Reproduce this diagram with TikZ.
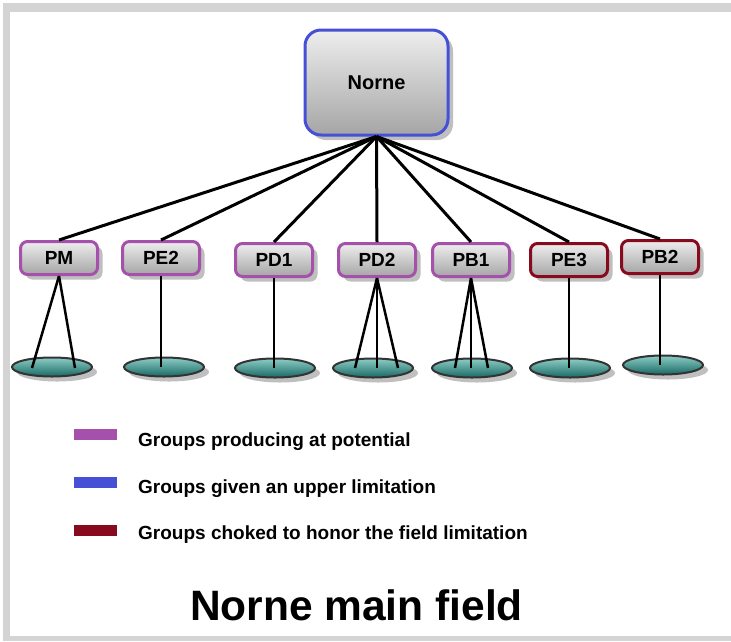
\documentclass[tikz,border=0pt]{standalone}
\usepackage{fontspec}
\setmainfont{Liberation Sans}
\usetikzlibrary{shapes.geometric,shadows,calc}

\definecolor{limblue}{RGB}{70,80,215}
\definecolor{potpurple}{RGB}{165,80,170}
\definecolor{chokered}{RGB}{135,10,30}
\definecolor{framegray}{RGB}{212,212,212}
\definecolor{tealtop}{RGB}{140,205,198}
\definecolor{tealbot}{RGB}{25,105,100}
\definecolor{boxtop}{RGB}{238,238,238}
\definecolor{boxbot}{RGB}{165,165,165}

\tikzset{
  softshadow/.style={drop shadow={shadow xshift=5pt, shadow yshift=-5pt, opacity=0.45, fill=black!55}},
  fieldbox/.style={draw=limblue, line width=3pt, rounded corners=16pt,
    top color=boxtop, bottom color=boxbot, softshadow,
    minimum width=143pt, minimum height=105pt, inner sep=0pt,
    font=\fontsize{20}{24}\selectfont\bfseries},
  groupbox/.style={line width=3pt, rounded corners=7pt,
    top color=boxtop, bottom color=boxbot, softshadow,
    minimum width=77pt, minimum height=33pt, inner sep=0pt,
    font=\fontsize{19}{22}\selectfont\bfseries},
  potential/.style={groupbox, draw=potpurple},
  choked/.style={groupbox, draw=chokered},
  well/.style={ellipse, draw=black!80, line width=2pt,
    top color=tealtop, bottom color=tealbot, softshadow,
    minimum width=80pt, minimum height=19pt, inner sep=0pt},
  link/.style={line width=3pt, black},
  flow/.style={line width=2.5pt, black},
  legendbar/.style={minimum width=43pt, minimum height=11pt, inner sep=0pt},
  legendtext/.style={anchor=base west, inner sep=0pt,
    font=\fontsize{19}{22}\selectfont\bfseries},
}

\begin{document}
\begin{tikzpicture}[x=1pt, y=-1pt]
  % page and frame
  \useasboundingbox (0,0) rectangle (731,641);
  \fill[white] (0,0) rectangle (731,641);
  \fill[framegray] (3,3) rectangle (731,641);
  \fill[white] (10,12) rectangle (731,636);

  % field node
  \node[fieldbox] (norne) at (376.5,82.5) {Norne};

  % group nodes
  \node[potential] (pm)  at (59,258)  {PM};
  \node[potential] (pe2) at (161,258) {PE2};
  \node[potential] (pd1) at (274,260) {PD1};
  \node[potential] (pd2) at (377,260) {PD2};
  \node[potential] (pb1) at (471,260) {PB1};
  \node[choked]    (pe3) at (569,260) {PE3};
  \node[choked]    (pb2) at (660,257) {PB2};

  % field to groups
  \foreach \g in {pm,pe2,pd1,pd2,pb1,pe3,pb2}
    \draw[link] (norne.south) -- (\g.north);

  % wells
  \node[well] (wpm)  at (52,367)  {};
  \node[well] (wpe2) at (164,367) {};
  \node[well] (wpd1) at (275,368) {};
  \node[well] (wpd2) at (373,368) {};
  \node[well] (wpb1) at (472,368) {};
  \node[well] (wpe3) at (570,368) {};
  \node[well] (wpb2) at (663,365) {};

  % well connection points
  \coordinate (wpm1) at ($(wpm.center)+(-20,1)$);
  \coordinate (wpm2) at ($(wpm.center)+(23,1)$);
  \coordinate (wpd2a) at ($(wpd2.center)+(-18,0)$);
  \coordinate (wpd2b) at (pd2.south |- wpd2.center);
  \coordinate (wpd2c) at ($(wpd2.center)+(25,0)$);
  \coordinate (wpb1a) at ($(wpb1.center)+(-17,0)$);
  \coordinate (wpb1b) at (pb1.south |- wpb1.center);
  \coordinate (wpb1c) at ($(wpb1.center)+(16,0)$);

  % groups to wells
  \draw[flow] (pm.south) -- (wpm1);
  \draw[flow] (pm.south) -- (wpm2);
  \draw[flow] (pe2.south) -- (pe2.south |- wpe2.center);
  \draw[flow] (pd1.south) -- (pd1.south |- wpd1.center);
  \draw[flow] (pd2.south) -- (wpd2a);
  \draw[flow] (pd2.south) -- (wpd2b);
  \draw[flow] (pd2.south) -- (wpd2c);
  \draw[flow] (pb1.south) -- (wpb1a);
  \draw[flow] (pb1.south) -- (wpb1b);
  \draw[flow] (pb1.south) -- (wpb1c);
  \draw[flow] (pe3.south) -- (pe3.south |- wpe3.center);
  \draw[flow] (pb2.south) -- (pb2.south |- wpb2.center);

  % legend
  \node[legendbar, fill=potpurple] (lg1) at (95.5,434.5) {};
  \node[legendbar, fill=limblue]   (lg2) at (95.5,482.5) {};
  \node[legendbar, fill=chokered]  (lg3) at (95.5,530.5) {};
  \node[legendtext] (lt1) at (138,446) {Groups producing at potential};
  \node[legendtext] (lt2) at (138,493) {Groups given an upper limitation};
  \node[legendtext] (lt3) at (138,539) {Groups choked to honor the field limitation};

  % title
  \node[anchor=base, inner sep=0pt, font=\fontsize{42.5}{50}\selectfont\bfseries]
    (title) at (356.5,620) {Norne main field};
\end{tikzpicture}
\end{document}
